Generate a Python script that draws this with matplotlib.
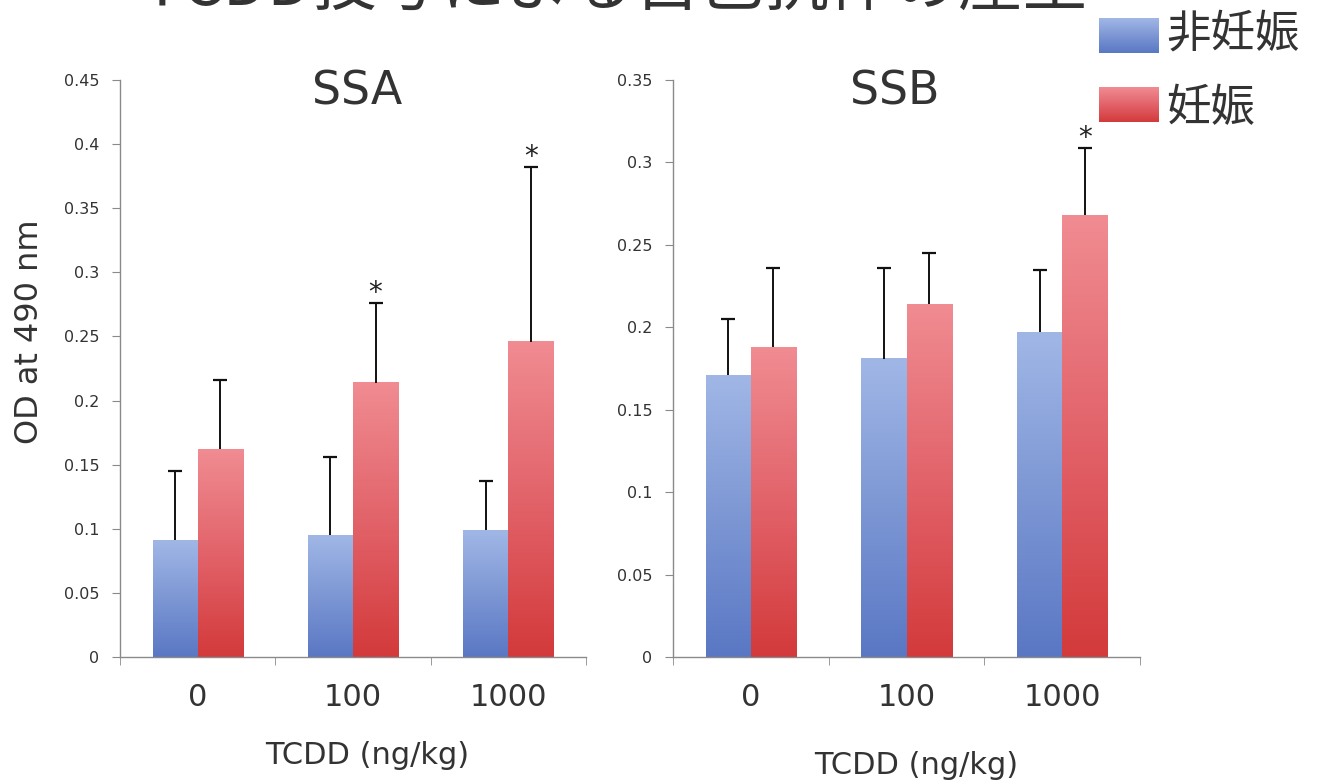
import numpy as np
import matplotlib
matplotlib.use("Agg")
import matplotlib.pyplot as plt
from matplotlib.colors import LinearSegmentedColormap

plt.rcParams['font.family'] = ['DejaVu Sans', 'Noto Sans CJK JP']

# ---------------- data ----------------
doses = ["0", "100", "1000"]
series_names = ["非妊娠", "妊娠"]
ssa_nonpreg = [0.091, 0.095, 0.099]
ssa_nonpreg_sd = [0.054, 0.061, 0.038]
ssa_preg = [0.162, 0.214, 0.246]
ssa_preg_sd = [0.054, 0.062, 0.136]
ssb_nonpreg = [0.171, 0.181, 0.197]
ssb_nonpreg_sd = [0.034, 0.055, 0.038]
ssb_preg = [0.188, 0.214, 0.268]
ssb_preg_sd = [0.048, 0.031, 0.041]
ssa_sig = [False, True, True]
ssb_sig = [False, False, True]
ssa_ticks = [0, 0.05, 0.1, 0.15, 0.2, 0.25, 0.3, 0.35, 0.4, 0.45]
ssb_ticks = [0, 0.05, 0.1, 0.15, 0.2, 0.25, 0.3, 0.35]
title = "TCDD投与による自己抗体の産生"
ylabel = "OD at 490 nm"
xlabel = "TCDD (ng/kg)"

# ---------------- styles ----------------
W, H = 1323, 782
blue_cmap = LinearSegmentedColormap.from_list("b", ["#5a77c4", "#7d97d4", "#a0b7e6"])
red_cmap = LinearSegmentedColormap.from_list("r", ["#d33a3b", "#e2636a", "#f08c92"])
grad = np.linspace(0, 1, 256).reshape(-1, 1)
axis_col = "#8a8a8a"
text_col = "#333333"

fig = plt.figure(figsize=(W / 100, H / 100), dpi=100)
fig.patch.set_facecolor("white")


def px_axes(x0, y0, x1, y1):
    return fig.add_axes([x0 / W, (H - y1) / H, (x1 - x0) / W, (y1 - y0) / H])


def gradient_bars(ax, bars, cmap):
    for b in bars:
        x0 = b.get_x()
        w = b.get_width()
        h = b.get_height()
        ax.imshow(grad, cmap=cmap, origin="lower", aspect="auto",
                  extent=[x0, x0 + w, 0, h], zorder=2, interpolation="bilinear")


def upper_errorbar(ax, x, vals, sd):
    eb = ax.errorbar(x, vals, yerr=[np.zeros(len(x)), sd], fmt="none",
                     ecolor="#111111", elinewidth=1.4, capsize=5, capthick=1.6, zorder=3)
    eb[1][0].set_visible(False)  # hide the lower cap


def panel(ax, nonpreg, nonpreg_sd, preg, preg_sd, sig, ticks, name, name_x, xl_pos):
    x = np.arange(len(doses))
    bw = 0.29
    b1 = ax.bar(x - bw / 2, nonpreg, bw, color="#7d97d4", zorder=1)
    b2 = ax.bar(x + bw / 2, preg, bw, color="#e2636a", zorder=1)
    gradient_bars(ax, b1, blue_cmap)
    gradient_bars(ax, b2, red_cmap)
    upper_errorbar(ax, x - bw / 2, nonpreg, nonpreg_sd)
    upper_errorbar(ax, x + bw / 2, preg, preg_sd)
    for i, s in enumerate(sig):
        if s:
            ax.annotate("*", (x[i] + bw / 2, preg[i] + preg_sd[i]), xytext=(0, 1.3),
                        textcoords="offset points", ha="center", va="baseline",
                        fontsize=20, color="#222222", zorder=4)
    ax.set_xlim(-0.5, len(doses) - 0.5)
    ax.set_ylim(ticks[0], ticks[-1])
    ax.set_yticks(ticks)
    ax.set_yticklabels([("%g" % t) for t in ticks], fontsize=11.5, color=text_col)
    ax.set_xticks(x)
    ax.set_xticklabels(doses, fontsize=22, color=text_col)
    ax.set_xticks(np.arange(-0.5, len(doses)), minor=True)
    ax.tick_params(axis="x", which="major", length=0, pad=19)
    ax.tick_params(axis="x", which="minor", length=6, color=axis_col, direction="out")
    ax.tick_params(axis="y", length=6, color=axis_col, direction="out", pad=9)
    for sp in ["top", "right"]:
        ax.spines[sp].set_visible(False)
    for sp in ["left", "bottom"]:
        ax.spines[sp].set_color(axis_col)
        ax.spines[sp].set_linewidth(1.0)
    ax.text(name_x, 0.979, name, transform=ax.transAxes, ha="center", va="center",
            fontsize=33, color=text_col)
    ax.text(xl_pos[0], xl_pos[1], xlabel, transform=ax.transAxes, ha="center",
            va="center", fontsize=22, color=text_col)


ax1 = px_axes(120, 80, 586, 657)
ax2 = px_axes(673, 80, 1140, 657)
panel(ax1, ssa_nonpreg, ssa_nonpreg_sd, ssa_preg, ssa_preg_sd, ssa_sig, ssa_ticks,
      "SSA", 0.509, (0.53, -0.17))
panel(ax2, ssb_nonpreg, ssb_nonpreg_sd, ssb_preg, ssb_preg_sd, ssb_sig, ssb_ticks,
      "SSB", 0.475, (0.52, -0.188))

fig.text(30 / W, 1 - 332 / H, ylabel, rotation=90, ha="center", va="center",
         fontsize=23, color=text_col)

# title: only its lower edge shows at the top of the reference picture
fig.text(615 / W, 1 - 5 / H, title, ha="center", va="baseline", fontsize=46.5,
         color=text_col, family=["Noto Sans CJK JP", "DejaVu Sans"])

# legend swatches
for (y0, y1, ty, cmap, lab) in [(18, 53, 34, blue_cmap, series_names[0]),
                                (87, 122, 108, red_cmap, series_names[1])]:
    sw = px_axes(1099, y0, 1159, y1)
    sw.imshow(grad, cmap=cmap, origin="lower", aspect="auto", interpolation="bilinear")
    sw.set_axis_off()
    fig.text(1166 / W, 1 - ty / H, lab, ha="left", va="center", fontsize=32,
             color=text_col, family=["Noto Sans CJK JP", "DejaVu Sans"])

fig.savefig("out.png", dpi=100)
